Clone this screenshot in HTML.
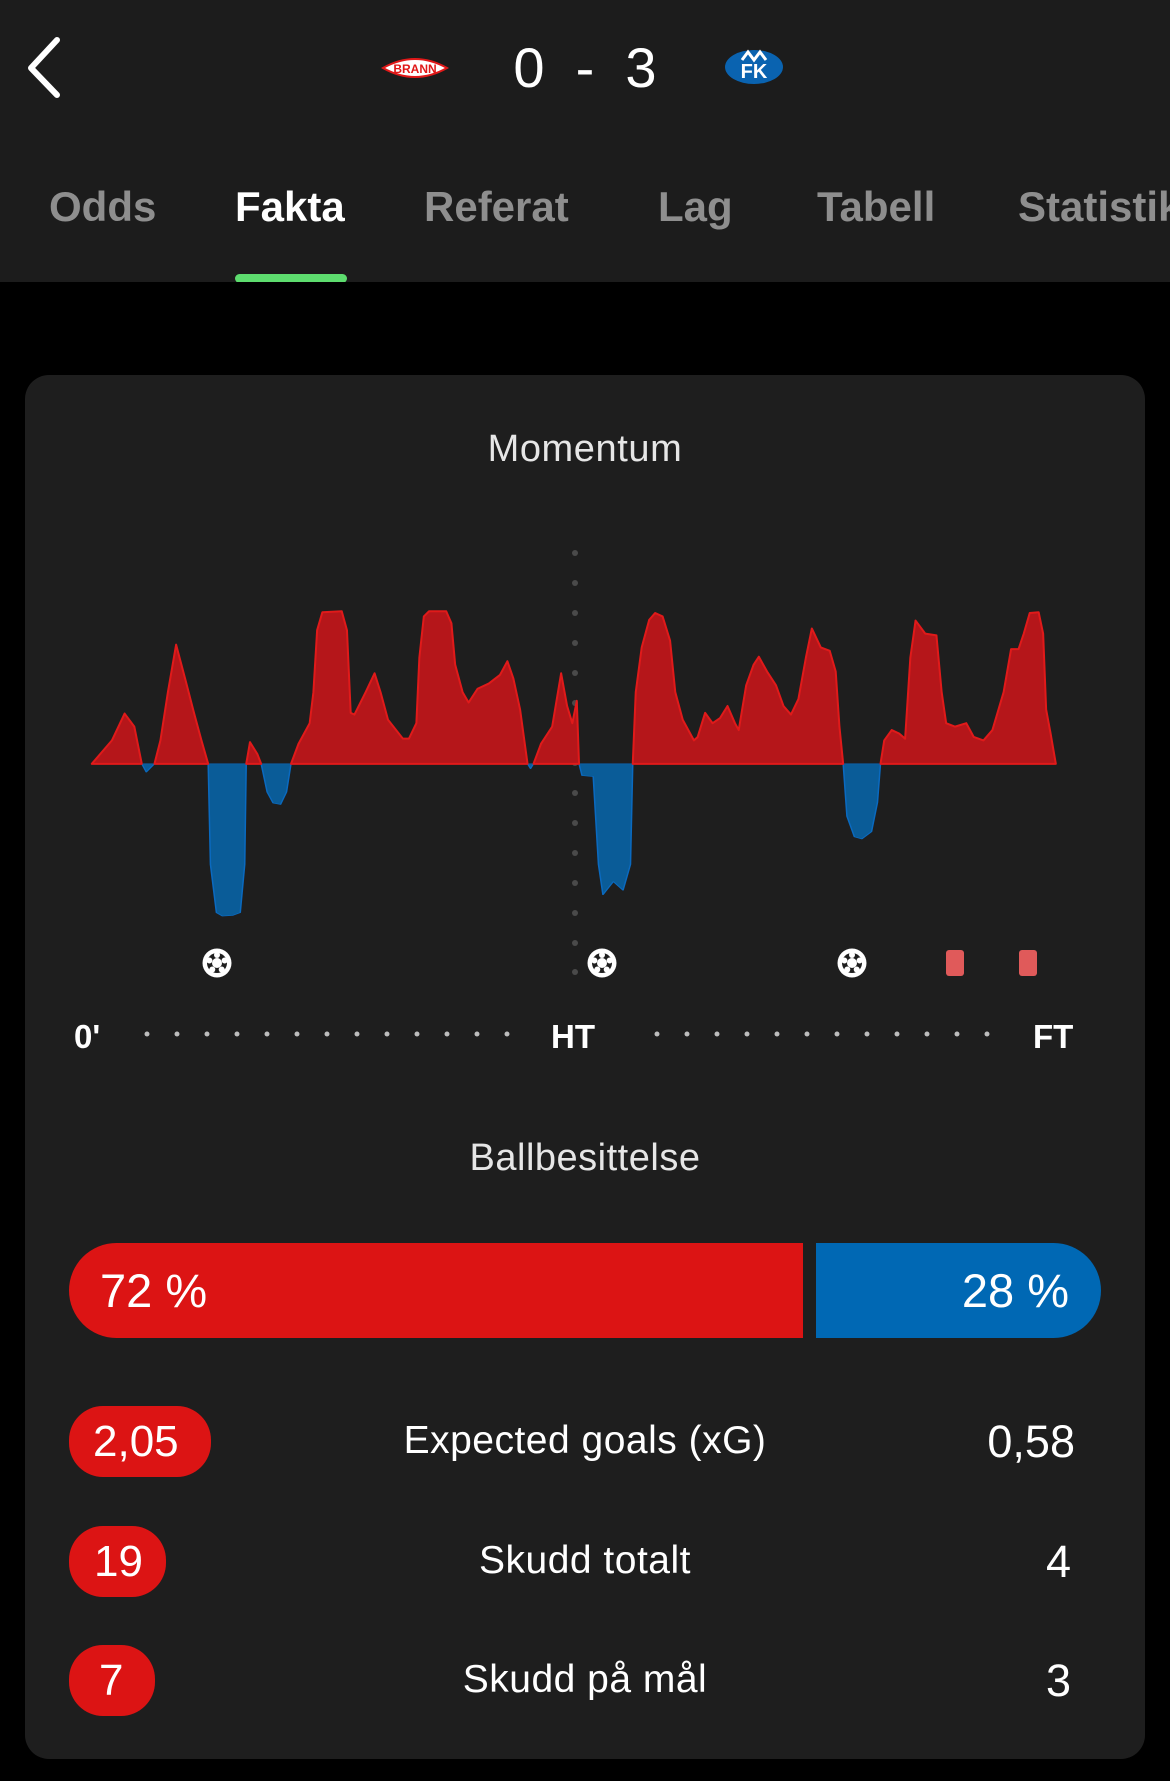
<!DOCTYPE html>
<html><head><meta charset="utf-8"><style>
*{margin:0;padding:0;box-sizing:border-box}
body{width:1170px;height:1781px;background:#000;font-family:"Liberation Sans",sans-serif;color:#fff;position:relative;overflow:hidden}
.hdr{position:absolute;left:0;top:0;width:1170px;height:282px;background:#1c1c1c}
.abs{position:absolute;white-space:nowrap}
.tab{position:absolute;top:183px;font-size:42px;font-weight:bold;color:#8e8e8e}
.card{position:absolute;left:25px;top:375px;width:1120px;height:1384px;background:#1e1e1e;border-radius:24px}
.c{position:absolute;left:0;width:1170px;text-align:center}
.pill{position:absolute;left:69px;height:71px;border-radius:34px;background:#dc1414;font-size:44px;line-height:71px;padding-left:25px}
.lab{font-size:39px}
.val{position:absolute;right:95px;font-size:45px}
</style></head><body>
<div class="hdr"></div>
<svg class="abs" style="left:0;top:0" width="1170" height="282">
<polyline points="57,40 31,68 57,95" fill="none" stroke="#fff" stroke-width="6" stroke-linecap="round" stroke-linejoin="round"/>
<path d="M383,68 Q415,50 447,68 Q415,86 383,68Z" fill="#fff" stroke="#e01818" stroke-width="2"/>
<text x="415" y="73" font-size="12" font-weight="bold" fill="#e01818" text-anchor="middle" font-family="Liberation Sans">BRANN</text>
<ellipse cx="754" cy="67" rx="29" ry="17" fill="#0a63b0"/>
<text x="754" y="78" font-size="20" font-weight="bold" fill="#fff" text-anchor="middle" font-family="Liberation Sans">FK</text>
<path d="M742,60 L748,52 L754,60 L760,52 L766,60" fill="none" stroke="#fff" stroke-width="3"/>
<rect x="235" y="274" width="112" height="9" rx="4.5" fill="#5ddc6e"/>
</svg>
<div class="abs" style="left:0;width:1170px;top:38px;text-align:center;font-size:56px;line-height:60px">0&nbsp;&nbsp;-&nbsp;&nbsp;3</div>
<div class="tab" style="left:49px">Odds</div>
<div class="tab" style="left:235px;color:#fff">Fakta</div>
<div class="tab" style="left:424px">Referat</div>
<div class="tab" style="left:658px">Lag</div>
<div class="tab" style="left:817px">Tabell</div>
<div class="tab" style="left:1018px">Statistikk</div>
<div class="card"></div>
<div class="c" style="top:428px;font-size:38px;letter-spacing:0.6px;color:#e6e6e6">Momentum</div>
<svg class="abs" style="left:0;top:520px" width="1170" height="540">
<g fill="#4a4a4a">
<circle cx="575" cy="33" r="3"/><circle cx="575" cy="63" r="3"/><circle cx="575" cy="93" r="3"/><circle cx="575" cy="123" r="3"/><circle cx="575" cy="153" r="3"/><circle cx="575" cy="183" r="3"/><circle cx="575" cy="213" r="3"/><circle cx="575" cy="243" r="3"/><circle cx="575" cy="273" r="3"/><circle cx="575" cy="303" r="3"/><circle cx="575" cy="333" r="3"/><circle cx="575" cy="363" r="3"/><circle cx="575" cy="393" r="3"/><circle cx="575" cy="423" r="3"/><circle cx="575" cy="452" r="3"/>
</g>
</svg>
<svg class="abs" style="left:0;top:520px" width="1170" height="540" viewBox="0 0 1568 1568" preserveAspectRatio="none">
<g fill="#0a5c98" stroke="#0a6ac0" stroke-width="2" vector-effect="non-scaling-stroke" stroke-linejoin="round">
<path d="M190,708 L196,732 L207,708Z"/>
<path d="M279,708 L282,1000 L290,1140 L298,1150 L312,1148 L322,1140 L328,1000 L330,708Z"/>
<path d="M350,708 L358,790 L366,822 L376,826 L384,790 L390,708Z"/>
<path d="M707,708 L711,722 L715,708Z"/>
<path d="M776,708 L780,742 L795,745 L802,1000 L808,1088 L822,1050 L835,1075 L845,1000 L848,708Z"/>
<path d="M1130,708 L1135,860 L1145,920 L1155,926 L1168,905 L1176,820 L1180,708Z"/>
</g>
<path fill="#b5161a" stroke="#e01a1a" stroke-width="2" vector-effect="non-scaling-stroke" stroke-linejoin="round" d="M123,708 L150,640 L167,562 L180,600 L190,708 Z M207,708 L215,640 L225,500 L236,362 L248,460 L260,560 L270,640 L279,708 Z M330,708 L335,645 L345,680 L350,708 Z M390,708 L400,650 L415,590 L420,500 L425,320 L432,268 L458,265 L465,320 L470,560 L475,565 L490,500 L502,445 L510,500 L520,580 L540,635 L548,635 L558,590 L562,400 L568,280 L575,265 L598,265 L605,300 L610,420 L620,500 L628,530 L640,490 L655,475 L670,450 L680,410 L688,460 L697,550 L707,708 Z M715,708 L725,650 L740,600 L752,445 L760,540 L767,590 L773,525 L776,708 Z M848,708 L852,500 L860,370 L870,290 L878,270 L888,280 L898,350 L905,500 L915,580 L930,640 L935,630 L945,560 L955,590 L965,575 L975,540 L985,590 L990,610 L1000,480 L1010,420 L1017,397 L1028,440 L1040,480 L1050,540 L1060,565 L1070,520 L1080,400 L1088,315 L1100,370 L1112,380 L1120,440 L1125,600 L1130,708 Z M1180,708 L1185,640 L1195,610 L1205,620 L1213,635 L1220,400 L1227,292 L1240,330 L1255,335 L1262,500 L1268,590 L1280,600 L1295,590 L1305,630 L1318,640 L1330,610 L1345,500 L1355,375 L1365,375 L1372,330 L1380,270 L1392,268 L1398,330 L1402,550 L1408,620 L1415,708 Z"/>
</svg>
<svg class="abs" style="left:0;top:930px" width="1170" height="140">
<defs><g id="ball"><circle r="14.5" fill="#fff"/><circle r="10" fill="#1e1e1e"/><circle r="5" fill="#fff"/><circle cy="-8" r="3" fill="#fff"/><circle cx="7.6" cy="-2.5" r="3" fill="#fff"/><circle cx="-7.6" cy="-2.5" r="3" fill="#fff"/><circle cx="4.7" cy="6.5" r="3" fill="#fff"/><circle cx="-4.7" cy="6.5" r="3" fill="#fff"/></g></defs>
<use href="#ball" x="217" y="33"/><use href="#ball" x="602" y="33"/><use href="#ball" x="852" y="33"/>
<rect x="946" y="20" width="18" height="26" rx="3" fill="#e05a5a"/>
<rect x="1019" y="20" width="18" height="26" rx="3" fill="#e05a5a"/>
<g fill="#bdbdbd">
<circle cx="147" cy="104" r="2.5"/><circle cx="177" cy="104" r="2.5"/><circle cx="207" cy="104" r="2.5"/><circle cx="237" cy="104" r="2.5"/><circle cx="267" cy="104" r="2.5"/><circle cx="297" cy="104" r="2.5"/><circle cx="327" cy="104" r="2.5"/><circle cx="357" cy="104" r="2.5"/><circle cx="387" cy="104" r="2.5"/><circle cx="417" cy="104" r="2.5"/><circle cx="447" cy="104" r="2.5"/><circle cx="477" cy="104" r="2.5"/><circle cx="507" cy="104" r="2.5"/>
<circle cx="657" cy="104" r="2.5"/><circle cx="687" cy="104" r="2.5"/><circle cx="717" cy="104" r="2.5"/><circle cx="747" cy="104" r="2.5"/><circle cx="777" cy="104" r="2.5"/><circle cx="807" cy="104" r="2.5"/><circle cx="837" cy="104" r="2.5"/><circle cx="867" cy="104" r="2.5"/><circle cx="897" cy="104" r="2.5"/><circle cx="927" cy="104" r="2.5"/><circle cx="957" cy="104" r="2.5"/><circle cx="987" cy="104" r="2.5"/>
</g>
<g font-family="Liberation Sans" font-weight="bold" font-size="33" fill="#fff">
<text x="74" y="118">0'</text><text x="551" y="118">HT</text><text x="1033" y="118">FT</text>
</g>
</svg>
<div class="c" style="top:1137px;font-size:38px;letter-spacing:0.5px;color:#e6e6e6">Ballbesittelse</div>
<div class="abs" style="left:69px;top:1243px;width:734px;height:95px;background:#dc1414;border-radius:48px 0 0 48px;font-size:47px;line-height:95px;padding-left:31px">72 %</div>
<div class="abs" style="left:816px;top:1243px;width:285px;height:95px;background:#0068b4;border-radius:0 48px 48px 0;font-size:47px;line-height:95px;text-align:right;padding-right:32px">28 %</div>
<div class="pill" style="top:1406px;width:142px;padding-left:24px">2,05</div>
<div class="c lab" style="top:1419px;letter-spacing:0.5px">Expected goals (xG)</div>
<div class="val" style="top:1416px">0,58</div>
<div class="pill" style="top:1526px;width:97px">19</div>
<div class="c lab" style="top:1539px;letter-spacing:0.5px">Skudd totalt</div>
<div class="val" style="top:1536px;right:99px">4</div>
<div class="pill" style="top:1645px;width:86px;padding-left:30px">7</div>
<div class="c lab" style="top:1658px;letter-spacing:0.5px">Skudd på mål</div>
<div class="val" style="top:1655px;right:99px">3</div>
</body></html>
